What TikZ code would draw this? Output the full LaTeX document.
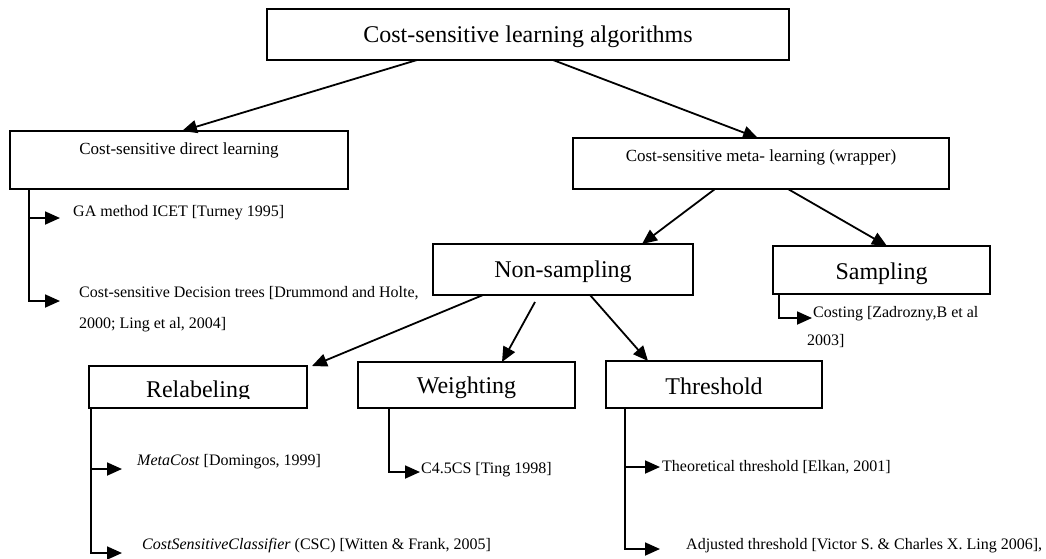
\documentclass[tikz,border=0pt]{standalone}
\usepackage{fontspec}
\setmainfont{Liberation Serif}
\usetikzlibrary{arrows.meta}
\begin{document}
\begin{tikzpicture}[x=1pt,y=-1pt,
  box/.style={draw, line width=1.8pt, inner sep=0pt, outer sep=0pt},
  big/.style={font=\fontsize{24}{28}\selectfont, inner sep=0pt, anchor=base},
  mid/.style={font=\fontsize{17}{20}\selectfont, inner sep=0pt, anchor=base},
  item/.style={font=\fontsize{16}{19}\selectfont, inner sep=0pt, anchor=base west},
  con/.style={line width=1.8pt, -{Triangle[length=15pt,width=13pt]}},
  spine/.style={line width=1.8pt}
  ]
\useasboundingbox[fill=white] (0,0) rectangle (1046,558);

% boxes
\node[box, minimum width=522pt, minimum height=51pt] (top) at (528,34.5) {};
\node[box, minimum width=338pt, minimum height=58pt] (direct) at (179,160) {};
\node[box, minimum width=376pt, minimum height=51pt] (meta) at (761,163.5) {};
\node[box, minimum width=260pt, minimum height=51pt] (nons) at (563,269.5) {};
\node[box, minimum width=217pt, minimum height=48pt] (samp) at (881.5,270) {};
\node[box, minimum width=218pt, minimum height=42pt] (relab) at (198,387) {};
\node[box, minimum width=217pt, minimum height=46pt] (weight) at (466.5,385) {};
\node[box, minimum width=216pt, minimum height=47pt] (thresh) at (714,384.5) {};

% box texts
\node[big] (topT) at (528,42) {Cost-sensitive learning algorithms};
\node[mid] (directT) at (179,154) {Cost-sensitive direct learning};
\node[mid] (metaT) at (761,161) {Cost-sensitive meta- learning (wrapper)};
\node[big] (nonsT) at (563,277) {Non-sampling};
\node[big] (sampT) at (881.5,279) {Sampling};
\begin{scope}
  \clip (89,366) rectangle (307,398.5);
  \node[big] (relabT) at (198,397.5) {Relabeling};
\end{scope}
\node[big] (weightT) at (466.5,393) {Weighting};
\node[big] (threshT) at (714,394) {Threshold};

% tree connectors
\draw[con] ([xshift=150pt]top.south west) -- ([xshift=172pt]direct.north west);
\draw[con] ([xshift=286pt]top.south west) -- ([xshift=185pt]meta.north west);
\draw[con] ([xshift=142pt]meta.south west) -- ([xshift=209pt]nons.north west);
\draw[con] ([xshift=215pt]meta.south west) -- ([xshift=114pt]samp.north west);
\draw[con] ([xshift=50pt]nons.south west) -- ([xshift=5pt]relab.north east);
\draw[con] ([xshift=102pt,yshift=-7pt]nons.south west) -- ([xshift=144pt]weight.north west);
\draw[con] ([xshift=157pt]nons.south west) -- ([xshift=42pt]thresh.north west);

% direct learning items
\coordinate (ds) at ([xshift=19pt]direct.south west);
\coordinate (d1) at (60,218);
\coordinate (d2) at (60,301);
\draw[con] (ds) |- (d2);
\draw[con] (ds |- d1) -- (d1);
\node[item] (ga) at (73,216.5) {GA method ICET [Turney 1995]};
\node[item] (dt1) at (79,297) {Cost-sensitive Decision trees [Drummond and Holte,};
\node[item] (dt2) at (79,328) {2000; Ling et al, 2004]};

% sampling items
\coordinate (ss) at ([xshift=6pt]samp.south west);
\coordinate (s1) at (812,318);
\draw[con] (ss) |- (s1);
\node[item] (cost1) at (813,317) {Costing [Zadrozny,B et al};
\node[item] (cost2) at (807,345) {2003]};

% relabeling items
\coordinate (rs) at ([xshift=2pt]relab.south west);
\coordinate (r1) at (122,469);
\coordinate (r2) at (122,553);
\draw[con] (rs) |- (r2);
\draw[con] (rs |- r1) -- (r1);
\node[item] (mc) at (137,465) {\textit{MetaCost} [Domingos, 1999]};
\node[item] (csc) at (142,549) {\textit{CostSensitiveClassifier} (CSC) [Witten \& Frank, 2005]};

% weighting items
\coordinate (ws) at ([xshift=31pt]weight.south west);
\coordinate (w1) at (420,472);
\draw[con] (ws) |- (w1);
\node[item] (c45) at (421,473) {C4.5CS [Ting 1998]};

% threshold items
\coordinate (ts) at ([xshift=19pt]thresh.south west);
\coordinate (t1) at (660,467);
\coordinate (t2) at (660,549);
\draw[con] (ts) |- (t2);
\draw[con] (ts |- t1) -- (t1);
\node[item] (th1) at (662,471) {Theoretical threshold [Elkan, 2001]};
\node[item] (th2) at (686,549) {Adjusted threshold [Victor S. \& Charles X. Ling 2006],};
\end{tikzpicture}
\end{document}
